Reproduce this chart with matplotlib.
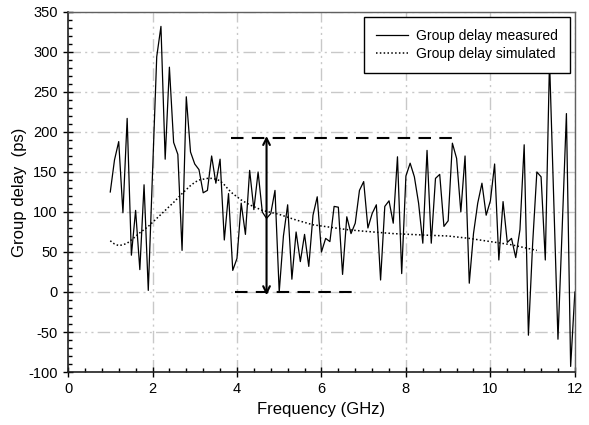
import numpy as np
import matplotlib
matplotlib.use("Agg")
import matplotlib.pyplot as plt
from matplotlib.ticker import MultipleLocator

# measured group delay, 0.1 GHz step from 1.0 to 12.0 GHz
freq_meas = np.round(np.arange(1.0, 12.05, 0.1), 1)
gd_meas = [125, 165, 188, 99, 217, 46, 102, 28, 134, 2,
           148, 294, 332, 166, 281, 187, 172, 52, 244, 175,
           160, 153, 124, 127, 170, 136, 166, 65, 123, 27,
           42, 111, 72, 152, 103, 150, 100, 92, 98, 127,
           0, 70, 109, 16, 75, 38, 72, 32, 96, 119,
           50, 67, 63, 107, 106, 22, 94, 73, 86, 127,
           138, 80, 98, 109, 15, 107, 114, 86, 169, 23,
           145, 161, 144, 111, 61, 177, 61, 142, 147, 82,
           89, 186, 167, 100, 170, 11, 73, 111, 136, 96,
           114, 160, 40, 113, 62, 67, 43, 78, 184, -54,
           60, 150, 144, 40, 290, 115, -59, 80, 223, -93,
           0]

# simulated group delay
freq_sim = [1.0, 1.1, 1.2, 1.3, 1.4, 1.5, 1.7, 1.9, 2.1, 2.3, 2.5, 2.7, 2.9, 3.0,
            3.1, 3.2, 3.3, 3.4, 3.5, 3.6, 3.7, 3.8, 3.9, 4.1, 4.3, 4.6, 5.0,
            5.4, 5.8, 6.2, 6.6, 7.0, 7.7, 8.5, 9.0, 9.5, 10.0, 10.5, 11.1]
gd_sim = [64, 60, 58, 59, 61, 65, 74, 82, 92, 102, 112, 123, 133, 137,
          140, 141, 142, 142, 141, 139, 134, 128, 123, 115, 109, 102, 97,
          90, 84, 81, 78, 76, 73, 71, 70, 67, 63, 59, 52]

# annotation: group delay ripple span
ripple_top = 192
ripple_bot = 0
top_span = [3.87, 9.1]
bot_span = [3.95, 6.75]
arrow_x = 4.7

plt.rcParams['font.family'] = ['Liberation Sans', 'DejaVu Sans']
plt.rcParams['axes.unicode_minus'] = False

fig = plt.figure(figsize=(5.89, 4.25), dpi=100)
ax = fig.add_axes([0.1155, 0.1247, 0.8605, 0.8471])

grid_style = (0, (9, 3, 1.5, 3, 1.5, 3))
ax.grid(True, which='major', color='#c8c8c8', linestyle=grid_style, linewidth=1.0)
ax.set_axisbelow(True)

ax.plot(freq_meas, gd_meas, color='black', linewidth=0.9, label='Group delay measured')
ax.plot(freq_sim, gd_sim, color='black', linestyle=(0, (1, 1.5)), linewidth=1.1,
        label='Group delay simulated')

ax.plot(top_span, [ripple_top, ripple_top], color='black', linewidth=1.5,
        linestyle=(0, (6, 4)))
ax.plot(bot_span, [ripple_bot, ripple_bot], color='black', linewidth=1.5,
        linestyle=(0, (6, 4)))
ax.annotate('', xy=(arrow_x, ripple_bot - 4), xytext=(arrow_x, ripple_top + 3),
            arrowprops=dict(arrowstyle='<->', color='black', lw=1.5,
                            shrinkA=0, shrinkB=0, mutation_scale=12))

ax.set_xlim(0, 12)
ax.set_ylim(-100, 350)
ax.xaxis.set_major_locator(MultipleLocator(2))
ax.xaxis.set_minor_locator(MultipleLocator(0.4))
ax.yaxis.set_major_locator(MultipleLocator(50))
ax.yaxis.set_minor_locator(MultipleLocator(10))
ax.tick_params(which='major', direction='inout', length=7, width=1, labelsize=10.5,
               colors='black', pad=4)
ax.tick_params(which='minor', direction='in', length=3, width=1)

for s in ['left', 'bottom']:
    ax.spines[s].set_linewidth(1.2)
    ax.spines[s].set_color('#202020')
for s in ['top', 'right']:
    ax.spines[s].set_linewidth(1.0)
    ax.spines[s].set_color('#606060')

ax.set_xlabel('Frequency (GHz)', fontsize=12, labelpad=4)
ax.set_ylabel('Group delay  (ps)', fontsize=12, labelpad=0.5)

leg = ax.legend(loc='upper right', fontsize=10, frameon=True, fancybox=False,
                edgecolor='black', framealpha=1, handlelength=2.3, handletextpad=0.6,
                borderaxespad=0.35, borderpad=0.85, labelspacing=0.3)
leg.get_frame().set_linewidth(1.0)

fig.savefig('out.png', dpi=100)
